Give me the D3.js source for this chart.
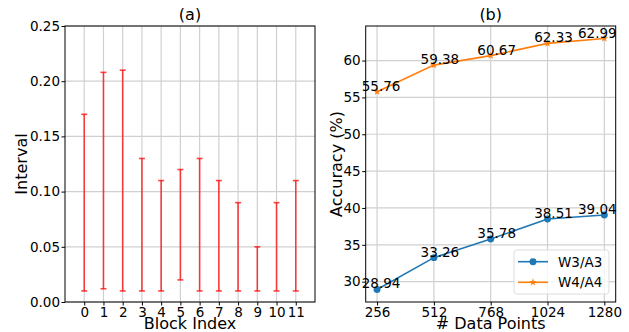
<!DOCTYPE html>
<html lang="en">
<head>
<meta charset="UTF-8">
<title>Interval / Accuracy</title>
<script src="https://d3js.org/d3.v7.min.js"></script>
<style>
  body { margin: 0; background: #fff; }
  svg text { font-family: "DejaVu Sans", sans-serif; fill: #000; }
  .grid line { stroke: #d0d0d0; stroke-width: 1.2; }
  .tick text { font-size: 13.5px; }
</style>
</head>
<body>
<svg id="chart" width="629" height="332"></svg>
<script>
// (a) interval per block
var blocks = [0, 1, 2, 3, 4, 5, 6, 7, 8, 9, 10, 11];
var lowVals = [0.01, 0.012, 0.01, 0.01, 0.01, 0.02, 0.01, 0.01, 0.01, 0.01, 0.01, 0.01];
var highVals = [0.17, 0.208, 0.21, 0.13, 0.11, 0.12, 0.13, 0.11, 0.09, 0.05, 0.09, 0.11];
var intervalTicks = [0, 0.05, 0.10, 0.15, 0.20, 0.25];

// (b) accuracy vs data points
var dataPoints = [256, 512, 768, 1024, 1280];
var w3a3 = [28.94, 33.26, 35.78, 38.51, 39.04];
var w4a4 = [55.76, 59.38, 60.67, 62.33, 62.99];
var accTicks = [30, 35, 40, 45, 50, 55, 60];

var svg = d3.select('#chart');
var plotTop = 26, plotBottom = 302;

// ---------- panel (a) ----------
var xA = d3.scaleLinear().domain([-1, 12]).range([65, 315]);
var yA = d3.scaleLinear().domain([0, 0.25]).range([plotBottom, plotTop]);
var gA = svg.append('g');

gA.append('g').attr('class', 'grid')
  .selectAll('line').data(blocks).enter().append('line')
  .attr('x1', d => xA(d)).attr('x2', d => xA(d))
  .attr('y1', plotTop).attr('y2', plotBottom);
gA.append('g').attr('class', 'grid')
  .selectAll('line').data(intervalTicks).enter().append('line')
  .attr('x1', 65).attr('x2', 315)
  .attr('y1', d => yA(d)).attr('y2', d => yA(d));

var bars = gA.append('g').attr('stroke', 'red').attr('stroke-opacity', 0.72).attr('stroke-width', 1.6);
blocks.forEach(function (b, i) {
  var x = xA(b);
  bars.append('line').attr('x1', x).attr('x2', x).attr('y1', yA(lowVals[i])).attr('y2', yA(highVals[i]));
  bars.append('line').attr('x1', x - 3).attr('x2', x + 3).attr('y1', yA(lowVals[i])).attr('y2', yA(lowVals[i]));
  bars.append('line').attr('x1', x - 3).attr('x2', x + 3).attr('y1', yA(highVals[i])).attr('y2', yA(highVals[i]));
});

var xAxisA = gA.append('g').attr('transform', 'translate(0,' + plotBottom + ')')
  .call(d3.axisBottom(xA).tickValues(blocks).tickFormat(d3.format('d')).tickSize(3.5).tickPadding(2));
var yAxisA = gA.append('g').attr('transform', 'translate(65,0)')
  .call(d3.axisLeft(yA).tickValues(intervalTicks).tickFormat(d3.format('.2f')).tickSize(3.5).tickPadding(1.5));
[xAxisA, yAxisA].forEach(a => { a.select('.domain').remove(); a.selectAll('text').attr('fill', '#000'); });

gA.append('rect').attr('x', 65).attr('y', plotTop).attr('width', 250).attr('height', plotBottom - plotTop)
  .attr('fill', 'none').attr('stroke', '#000').attr('stroke-width', 1);

gA.append('text').attr('x', 190).attr('y', 20).attr('text-anchor', 'middle').style('font-size', '16px').text('(a)');
gA.append('text').attr('x', 190).attr('y', 329).attr('text-anchor', 'middle').style('font-size', '16px').text('Block Index');
gA.append('text').attr('transform', 'translate(27,164) rotate(-90)').attr('text-anchor', 'middle')
  .style('font-size', '16px').text('Interval');

// ---------- panel (b) ----------
var xB = d3.scaleLinear().domain([204.8, 1331.2]).range([365.7, 615.7]);
var yB = d3.scaleLinear().domain([27.24, 64.69]).range([plotBottom, plotTop]);
var gB = svg.append('g');

gB.append('g').attr('class', 'grid')
  .selectAll('line').data(dataPoints).enter().append('line')
  .attr('x1', d => xB(d)).attr('x2', d => xB(d))
  .attr('y1', plotTop).attr('y2', plotBottom);
gB.append('g').attr('class', 'grid')
  .selectAll('line').data(accTicks).enter().append('line')
  .attr('x1', 365.7).attr('x2', 615.7)
  .attr('y1', d => yB(d)).attr('y2', d => yB(d));

var line = d3.line().x((d, i) => xB(dataPoints[i])).y(d => yB(d));
var series = [
  { name: 'W3/A3', vals: w3a3, color: '#1f77b4', symbol: d3.symbolCircle, size: 38 },
  { name: 'W4/A4', vals: w4a4, color: '#ff7f0e', symbol: d3.symbolStar, size: 18 }
];
// label x nudges (last label pulled left like the original)
var labelDx = [4, 6, 6, 6, -7];

series.forEach(function (s) {
  gB.append('path').datum(s.vals).attr('d', line)
    .attr('fill', 'none').attr('stroke', s.color).attr('stroke-width', 1.6);
  gB.selectAll(null).data(s.vals).enter().append('path')
    .attr('d', d3.symbol().type(s.symbol).size(s.size))
    .attr('transform', (d, i) => 'translate(' + xB(dataPoints[i]) + ',' + yB(d) + ')')
    .attr('fill', s.color);
  gB.selectAll(null).data(s.vals).enter().append('text')
    .attr('x', (d, i) => xB(dataPoints[i]) + labelDx[i])
    .attr('y', d => yB(d) - 1)
    .attr('text-anchor', 'middle').style('font-size', '13.5px')
    .text(d => d.toFixed(2));
});

var xAxisB = gB.append('g').attr('transform', 'translate(0,' + plotBottom + ')')
  .call(d3.axisBottom(xB).tickValues(dataPoints).tickFormat(d3.format('d')).tickSize(3.5).tickPadding(2));
var yAxisB = gB.append('g').attr('transform', 'translate(365.7,0)')
  .call(d3.axisLeft(yB).tickValues(accTicks).tickFormat(d3.format('d')).tickSize(3.5).tickPadding(1.5));
[xAxisB, yAxisB].forEach(a => { a.select('.domain').remove(); a.selectAll('text').attr('fill', '#000'); });

gB.append('rect').attr('x', 365.7).attr('y', plotTop).attr('width', 250).attr('height', plotBottom - plotTop)
  .attr('fill', 'none').attr('stroke', '#000').attr('stroke-width', 1);

gB.append('text').attr('x', 490.7).attr('y', 20).attr('text-anchor', 'middle').style('font-size', '16px').text('(b)');
gB.append('text').attr('x', 490.7).attr('y', 329).attr('text-anchor', 'middle').style('font-size', '16px').text('# Data Points');
gB.append('text').attr('transform', 'translate(342,164) rotate(-90)').attr('text-anchor', 'middle')
  .style('font-size', '16px').text('Accuracy (%)');

// legend
var leg = gB.append('g').attr('transform', 'translate(514,250)');
leg.append('rect').attr('width', 95).attr('height', 44).attr('rx', 3)
  .attr('fill', '#fff').attr('fill-opacity', 0.8).attr('stroke', '#ddd').attr('stroke-width', 1);
series.forEach(function (s, i) {
  var y = 11.7 + i * 20.6;
  leg.append('line').attr('x1', 4).attr('x2', 34).attr('y1', y).attr('y2', y)
    .attr('stroke', s.color).attr('stroke-width', 1.6);
  leg.append('path').attr('d', d3.symbol().type(s.symbol).size(s.size))
    .attr('transform', 'translate(19,' + y + ')').attr('fill', s.color);
  leg.append('text').attr('x', 44).attr('y', y + 5).style('font-size', '13.5px').text(s.name);
});
</script>
</body>
</html>
